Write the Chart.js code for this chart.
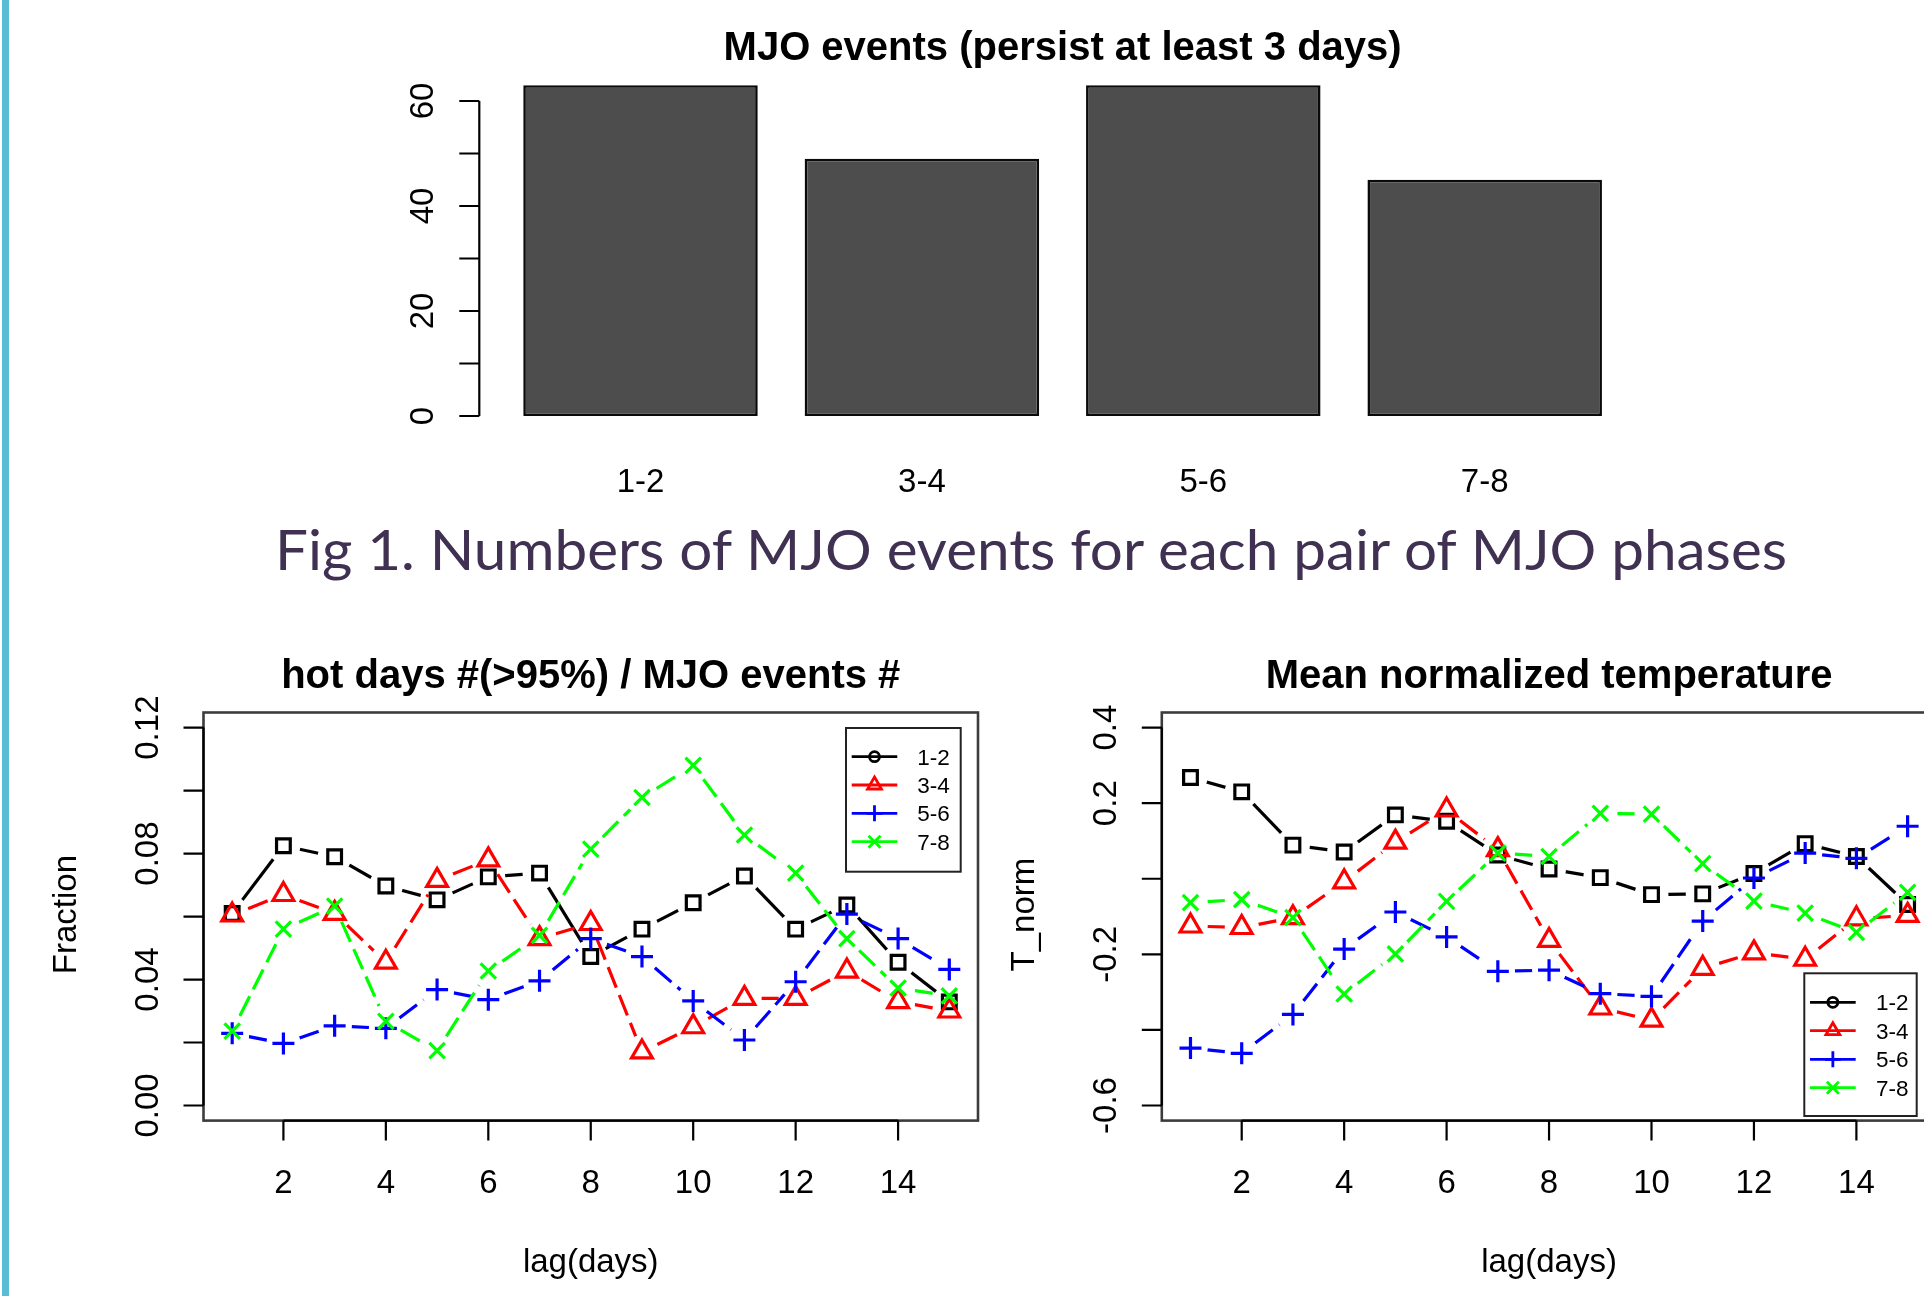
<!DOCTYPE html>
<html>
<head>
<meta charset="utf-8">
<script src="https://cdn.jsdelivr.net/npm/chart.js@4.4.0/dist/chart.umd.min.js"></script>
<style>
  html, body { margin: 0; padding: 0; background: #fff; width: 1924px; height: 1296px; overflow: hidden; position: relative; }
  canvas { position: absolute; left: 0; top: 0; }
  #edge { position: absolute; left: 2px; top: 0; width: 7px; height: 1296px; background: #5bbcd5; }
  #caption { position: absolute; left: 275px; top: 520px; font-family: Lato, "Open Sans", sans-serif; font-size: 57px; line-height: 1; color: #403152; white-space: nowrap; transform-origin: 0 0; }
</style>
</head>
<body>
<div id="edge"></div>
<canvas id="bars" width="1924" height="1296"></canvas>
<canvas id="hot" width="1924" height="1296"></canvas>
<canvas id="tnorm" width="1960" height="1296"></canvas>
<div id="caption">Fig 1. Numbers of MJO events for each pair of MJO phases</div>
<script>
// data
const phasePairs = ['1-2', '3-4', '5-6', '7-8'];
const eventCounts = [63, 49, 63, 45];

const lagDays = [1, 2, 3, 4, 5, 6, 7, 8, 9, 10, 11, 12, 13, 14, 15];

const hot12 = [0.061, 0.0825, 0.079, 0.0697, 0.0653, 0.0726, 0.0738, 0.0473, 0.056, 0.0644, 0.0729, 0.056, 0.0637, 0.0455, 0.0329];
const hot34 = [0.0605, 0.067, 0.061, 0.0455, 0.0715, 0.078, 0.053, 0.0578, 0.017, 0.025, 0.034, 0.034, 0.0427, 0.033, 0.030];
const hot56 = [0.0229, 0.0197, 0.0253, 0.0245, 0.0368, 0.0336, 0.0396, 0.053, 0.0473, 0.0332, 0.0208, 0.0393, 0.0608, 0.053, 0.0432];
const hot78 = [0.0236, 0.056, 0.0633, 0.0267, 0.0174, 0.0427, 0.054, 0.0814, 0.0978, 0.108, 0.0859, 0.0738, 0.053, 0.0373, 0.0348];

const tn12 = [0.268, 0.230, 0.089, 0.071, 0.169, 0.152, 0.063, 0.026, 0.003, -0.042, -0.040, 0.014, 0.093, 0.059, -0.068];
const tn34 = [-0.125, -0.129, -0.103, -0.008, 0.097, 0.182, 0.077, -0.163, -0.342, -0.374, -0.237, -0.196, -0.213, -0.106, -0.097];
const tn56 = [-0.448, -0.462, -0.359, -0.186, -0.088, -0.154, -0.245, -0.242, -0.304, -0.311, -0.112, 0.002, 0.068, 0.054, 0.139];
const tn78 = [-0.063, -0.055, -0.103, -0.305, -0.199, -0.060, 0.068, 0.059, 0.173, 0.171, 0.040, -0.059, -0.091, -0.142, -0.036];

const countTicks = [0, 10, 20, 30, 40, 50, 60];
const countLabelValues = [0, 20, 40, 60];
const countLabels = ['0', '20', '40', '60'];

const fracTicks = [0, 0.02, 0.04, 0.06, 0.08, 0.10, 0.12];
const fracLabelValues = [0, 0.04, 0.08, 0.12];
const fracLabels = ['0.00', '0.04', '0.08', '0.12'];

const tnTicks = [-0.6, -0.4, -0.2, 0, 0.2, 0.4];
const tnLabelValues = [-0.6, -0.2, 0.2, 0.4];
const tnLabels = ['-0.6', '-0.2', '0.2', '0.4'];

const lagTicks = [2, 4, 6, 8, 10, 12, 14];
const lagLabels = ['2', '4', '6', '8', '10', '12', '14'];

// styling
const FONT = '"Liberation Sans", Arimo, Arial, sans-serif';
const seriesColors = ['#000000', '#ff0000', '#0000ff', '#00ff00'];
const seriesMarkers = ['rect', 'triangle', 'cross', 'crossRot'];
const legendMarkers = ['circle', 'triangle', 'cross', 'crossRot'];
const markerRadius = [9.7, 12, 11, 10.9];
const seriesDash = [[], [22, 8], [22, 8], [22, 8]];
const GAP = 17;
const LW = 3.2;

function seriesSets(values, i) {
  const pts = lagDays.map((d, k) => ({ x: d, y: values[k] }));
  const order = 4 - i;
  return [
    {
      data: pts, gapped: true, order: order,
      borderColor: seriesColors[i], borderWidth: LW, borderDash: seriesDash[i],
      borderCapStyle: 'butt', borderJoinStyle: 'round',
      pointRadius: 0, pointHoverRadius: 0, tension: 0, fill: false,
      // restart the dash pattern on each segment, as R does for type = "b"
      segment: { borderDashOffset: c => -GAP - c.p0DataIndex * 30 }
    },
    {
      data: pts, showLine: false, order: order,
      pointStyle: seriesMarkers[i], pointRadius: markerRadius[i], pointHoverRadius: markerRadius[i],
      pointBorderColor: seriesColors[i], pointBackgroundColor: 'rgba(0,0,0,0)', pointBorderWidth: LW
    }
  ];
}

function legendMark(ctx, style, x, y) {
  ctx.beginPath();
  if (style === 'circle') {
    ctx.arc(x, y, 5, 0, Math.PI * 2);
  } else if (style === 'triangle') {
    const r = 8;
    ctx.moveTo(x, y - r);
    ctx.lineTo(x + r * 0.866, y + r / 2);
    ctx.lineTo(x - r * 0.866, y + r / 2);
    ctx.closePath();
  } else if (style === 'cross') {
    ctx.moveTo(x - 8, y); ctx.lineTo(x + 8, y);
    ctx.moveTo(x, y - 8); ctx.lineTo(x, y + 8);
  } else {
    const d = 6;
    ctx.moveTo(x - d, y - d); ctx.lineTo(x + d, y + d);
    ctx.moveTo(x - d, y + d); ctx.lineTo(x + d, y - d);
  }
  ctx.stroke();
}

// R-like decorations: box, axes, titles, legend
function rDeco(cfg) {
  return {
    id: 'rDeco',
    beforeDatasetDraw(chart, args) {
      if (!chart.data.datasets[args.index].gapped) return;
      const ctx = chart.ctx;
      ctx.save();
      ctx.beginPath();
      ctx.rect(0, 0, chart.width, chart.height);
      args.meta.data.forEach(p => {
        ctx.moveTo(p.x + GAP, p.y);
        ctx.arc(p.x, p.y, GAP, 0, Math.PI * 2);
      });
      ctx.clip('evenodd');
    },
    afterDatasetDraw(chart, args) {
      if (chart.data.datasets[args.index].gapped) chart.ctx.restore();
    },
    afterDraw(chart) {
      const ctx = chart.ctx;
      const area = chart.chartArea;
      const xs = chart.scales.x;
      const ys = chart.scales.y;
      ctx.save();
      ctx.lineCap = 'butt';

      if (cfg.box) {
        ctx.strokeStyle = '#3c3c3c';
        ctx.lineWidth = 2.6;
        ctx.strokeRect(area.left, area.top, area.right - area.left, area.bottom - area.top);
      }

      // y axis
      const ax = area.left - cfg.yAxisInset;
      const yPix = cfg.yTicks.map(v => ys.getPixelForValue(v));
      ctx.strokeStyle = '#000';
      ctx.lineWidth = 2.2;
      ctx.beginPath();
      ctx.moveTo(ax, Math.min(...yPix));
      ctx.lineTo(ax, Math.max(...yPix));
      yPix.forEach(p => { ctx.moveTo(ax, p); ctx.lineTo(ax - 20, p); });
      ctx.stroke();
      ctx.fillStyle = '#000';
      ctx.font = '33px ' + FONT;
      ctx.textAlign = 'center';
      ctx.textBaseline = 'alphabetic';
      cfg.yLabels.forEach((t, i) => {
        const p = ys.getPixelForValue(cfg.yLabelValues[i]);
        ctx.save();
        ctx.translate(ax - 46, p);
        ctx.rotate(-Math.PI / 2);
        ctx.fillText(t, 0, 0);
        ctx.restore();
      });

      // x axis
      if (cfg.xTicks) {
        const xPix = cfg.xTicks.map(v => xs.getPixelForValue(v));
        const by = area.bottom;
        ctx.beginPath();
        ctx.moveTo(Math.min(...xPix), by);
        ctx.lineTo(Math.max(...xPix), by);
        xPix.forEach(p => { ctx.moveTo(p, by); ctx.lineTo(p, by + 20); });
        ctx.stroke();
        cfg.xLabels.forEach((t, i) => ctx.fillText(t, xPix[i], by + 72.5));
      }
      if (cfg.categoryLabels) {
        cfg.categoryLabels.forEach((t, i) => ctx.fillText(t, xs.getPixelForValue(i), cfg.categoryBase));
      }

      // axis titles
      const cx = (area.left + area.right) / 2;
      if (cfg.xTitle) ctx.fillText(cfg.xTitle, cx, 1272);
      if (cfg.yTitle) {
        ctx.save();
        ctx.translate(area.left - 128, (area.top + area.bottom) / 2 - 2);
        ctx.rotate(-Math.PI / 2);
        ctx.fillText(cfg.yTitle, 0, 0);
        ctx.restore();
      }

      // main title
      ctx.font = 'bold 40px ' + FONT;
      ctx.fillText(cfg.title, cx, cfg.titleBase);

      // legend
      if (cfg.legend) {
        const L = cfg.legend;
        ctx.fillStyle = '#fff';
        ctx.fillRect(L.x0, L.y0, L.x1 - L.x0, L.y1 - L.y0);
        ctx.strokeStyle = '#222';
        ctx.lineWidth = 2;
        ctx.strokeRect(L.x0, L.y0, L.x1 - L.x0, L.y1 - L.y0);
        ctx.font = '22.5px ' + FONT;
        ctx.textAlign = 'left';
        phasePairs.forEach((name, i) => {
          const ry = L.rows[i];
          ctx.strokeStyle = seriesColors[i];
          ctx.lineWidth = 2.8;
          ctx.beginPath();
          ctx.moveTo(L.lx0, ry);
          ctx.lineTo(L.lx1, ry);
          ctx.stroke();
          legendMark(ctx, legendMarkers[i], (L.lx0 + L.lx1) / 2, ry);
          ctx.fillStyle = '#000';
          ctx.fillText(name, L.tx, ry + 8);
        });
      }
      ctx.restore();
    }
  };
}

const common = {
  responsive: false,
  animation: false,
  devicePixelRatio: 1,
  events: [],
  plugins: { legend: { display: false }, tooltip: { enabled: false }, title: { display: false } }
};

// Fig 1: bar chart
new Chart(document.getElementById('bars'), {
  type: 'bar',
  data: {
    labels: phasePairs,
    datasets: [{
      data: eventCounts,
      backgroundColor: '#4d4d4d',
      borderColor: '#0a0a0a',
      borderWidth: 2.6,
      borderSkipped: false,
      barPercentage: 1 / 1.2,
      categoryPercentage: 1
    }]
  },
  options: Object.assign({}, common, {
    layout: { padding: { left: 499.8, right: 1924 - 1625.4, top: 74.75, bottom: 1296 - 416 } },
    scales: {
      x: { display: false },
      y: { display: false, min: 0, max: 65 }
    }
  }),
  plugins: [rDeco({
    title: 'MJO events (persist at least 3 days)', titleBase: 60,
    yAxisInset: 20.5, yTicks: countTicks, yLabels: countLabels, yLabelValues: countLabelValues,
    categoryLabels: phasePairs, categoryBase: 491.5
  })]
});

// hot days fraction
new Chart(document.getElementById('hot'), {
  type: 'line',
  data: {
    datasets: [].concat(seriesSets(hot12, 0), seriesSets(hot34, 1), seriesSets(hot56, 2), seriesSets(hot78, 3))
  },
  options: Object.assign({}, common, {
    layout: { padding: { left: 203.5, right: 1924 - 978, top: 712.5, bottom: 1296 - 1120.6 } },
    scales: {
      x: { type: 'linear', display: false, min: 0.44, max: 15.56 },
      y: { type: 'linear', display: false, min: -0.0048, max: 0.1248 }
    }
  }),
  plugins: [rDeco({
    box: true,
    title: 'hot days #(>95%) / MJO events #', titleBase: 688,
    yAxisInset: 0, yTicks: fracTicks, yLabels: fracLabels, yLabelValues: fracLabelValues,
    xTicks: lagTicks, xLabels: lagLabels,
    xTitle: 'lag(days)', yTitle: 'Fraction',
    legend: { x0: 846, y0: 728, x1: 960.7, y1: 871.7, lx0: 851.7, lx1: 897.3, tx: 917.3, rows: [756.7, 785, 813.3, 841.7] }
  })]
});

// mean normalized temperature
new Chart(document.getElementById('tnorm'), {
  type: 'line',
  data: {
    datasets: [].concat(seriesSets(tn12, 0), seriesSets(tn34, 1), seriesSets(tn56, 2), seriesSets(tn78, 3))
  },
  options: Object.assign({}, common, {
    layout: { padding: { left: 1161.8, right: 1960 - 1936.3, top: 712.5, bottom: 1296 - 1120.6 } },
    scales: {
      x: { type: 'linear', display: false, min: 0.44, max: 15.56 },
      y: { type: 'linear', display: false, min: -0.64, max: 0.44 }
    }
  }),
  plugins: [rDeco({
    box: true,
    title: 'Mean normalized temperature', titleBase: 688,
    yAxisInset: 0, yTicks: tnTicks, yLabels: tnLabels, yLabelValues: tnLabelValues,
    xTicks: lagTicks, xLabels: lagLabels,
    xTitle: 'lag(days)', yTitle: 'T_norm',
    legend: { x0: 1804.3, y0: 973.3, x1: 1916.7, y1: 1116, lx0: 1810, lx1: 1855.7, tx: 1876, rows: [1002.3, 1030.7, 1059.3, 1087.7] }
  })]
});

// caption width fit
const cap = document.getElementById('caption');
const capW = cap.getBoundingClientRect().width;
cap.style.transform = 'scaleX(' + (1512 / capW) + ')';
</script>
</body>
</html>
